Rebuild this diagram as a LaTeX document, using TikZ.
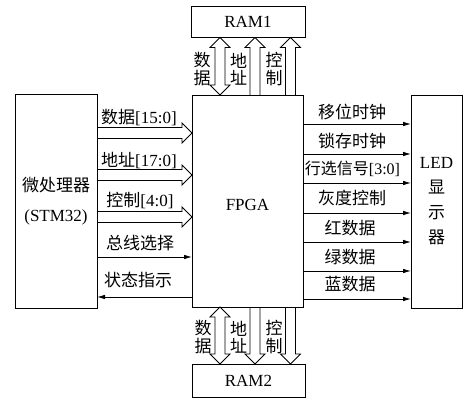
\documentclass[tikz,border=0pt]{standalone}
\usepackage{fontspec}
\setmainfont{Liberation Serif}
\newfontfamily\cjk{Noto Sans CJK SC}
\usetikzlibrary{calc,arrows.meta}
% horizontal hollow arrow, left node -> right node, at pixel row #3
\newcommand\blkR[3]{%
  \draw[blk] ($(#1.east|-0,#3)+(0,-5.5)$) -- ($(#2.west|-0,#3)+(-10,-5.5)$) -- ++(0,-4.5)
    -- (#2.west|-0,#3) -- ++(-10,10) -- ++(0,-4.5) -- ($(#1.east|-0,#3)+(0,5.5)$);}
% vertical hollow arrow pointing up, from lower node #1 to upper node #2, column #3
\newcommand\blkU[3]{%
  \draw[blk] ($(#1.north-|#3,0)+(-5,0)$) -- ($(#2.south-|#3,0)+(-5,10)$) -- ++(-5,0)
    -- (#2.south-|#3,0) -- ++(10,10) -- ++(-5,0) -- ($(#1.north-|#3,0)+(5,0)$);}
% vertical hollow arrow pointing down, from upper node #1 to lower node #2, column #3
\newcommand\blkD[3]{%
  \draw[blk] ($(#1.south-|#3,0)+(-5,0)$) -- ($(#2.north-|#3,0)+(-5,-10)$) -- ++(-5,0)
    -- (#2.north-|#3,0) -- ++(10,-10) -- ++(-5,0) -- ($(#1.south-|#3,0)+(5,0)$);}
% vertical hollow double arrow between upper node #1 and lower node #2, column #3
\newcommand\blkB[3]{%
  \draw[blk] (#1.south-|#3,0) -- ++(10,10) -- ++(-5,0) -- ($(#2.north-|#3,0)+(5,-10)$)
    -- ++(5,0) -- (#2.north-|#3,0) -- ++(-10,-10) -- ++(5,0)
    -- ($(#1.south-|#3,0)+(-5,10)$) -- ++(-5,0) -- cycle;}
\begin{document}
\begin{tikzpicture}[x=1pt,y=-1pt,
  every node/.style={font=\fontsize{17}{20}\selectfont, inner sep=0pt, outer sep=0pt},
  box/.style={draw, line width=0.9pt},
  blk/.style={draw, line width=0.8pt, line join=miter},
  sig/.style={line width=0.8pt, -{Latex[length=8pt,width=4.5pt]}},
  vlab/.style={font=\cjk\fontsize{17}{17.5}\selectfont, align=center}]
\useasboundingbox (0,0) rectangle (474,409);
% boxes
\node[box, minimum width=82, minimum height=214, align=center,
      font=\fontsize{17}{30}\selectfont] (mcu) at (56,201)
      {{\cjk 微处理器}\\(STM32)};
\node[box, minimum width=111, minimum height=212] (fpga) at (247.5,201) {};
\node (fpgatxt) at (247.5,205) {FPGA};
\node[box, minimum width=114, minimum height=31] (ram1) at (248,22) {RAM1};
\node[box, minimum width=113, minimum height=33] (ram2) at (248.5,380.5) {RAM2};
\node[box, minimum width=51, minimum height=213, align=center,
      font=\fontsize{17}{25}\selectfont] (led) at (436.5,201.5)
      {LED\\{\cjk 显}\\{\cjk 示}\\{\cjk 器}};
% MCU -> FPGA buses
\blkR{mcu}{fpga}{133}
\blkR{mcu}{fpga}{175}
\blkR{mcu}{fpga}{217}
\node (ld) at (139,117) {{\cjk 数据}[15:0]};
\node (la) at (139,160) {{\cjk 地址}[17:0]};
\node (lc) at (140,200) {{\cjk 控制}[4:0]};
\draw[sig] (mcu.east|-0,257) -- (fpga.west|-0,257);
\node (lsel) at (140,243) {\cjk 总线选择};
\draw[sig] (fpga.west|-0,297) -- (mcu.east|-0,297);
\node (lst) at (138,280) {\cjk 状态指示};
% RAM1 <-> FPGA
\blkB{ram1}{fpga}{220}
\blkU{fpga}{ram1}{255}
\blkU{fpga}{ram1}{290.5}
\node[vlab] (r1d) at (202,69) {数\\据};
\node[vlab] (r1a) at (238.5,69) {地\\址};
\node[vlab] (r1c) at (274,69) {控\\制};
% FPGA <-> RAM2
\blkB{fpga}{ram2}{220}
\blkD{fpga}{ram2}{255}
\blkD{fpga}{ram2}{290.5}
\node[vlab] (r2d) at (203,337) {数\\据};
\node[vlab] (r2a) at (238.5,337) {地\\址};
\node[vlab] (r2c) at (274,337) {控\\制};
% FPGA -> LED
\foreach \yy in {124,154,183,213,242,271,299}
  \draw[sig] (fpga.east|-0,\yy) -- (led.west|-0,\yy);
\node (o1) at (352,112) {\cjk 移位时钟};
\node (o2) at (352,141) {\cjk 锁存时钟};
\node[font=\fontsize{16}{18}\selectfont] (o3) at (352.5,169) {{\cjk 行选信号}[3:0]};
\node (o4) at (352,198) {\cjk 灰度控制};
\node (o5) at (350,228) {\cjk 红数据};
\node (o6) at (350,257) {\cjk 绿数据};
\node (o7) at (350,284) {\cjk 蓝数据};
\end{tikzpicture}
\end{document}
